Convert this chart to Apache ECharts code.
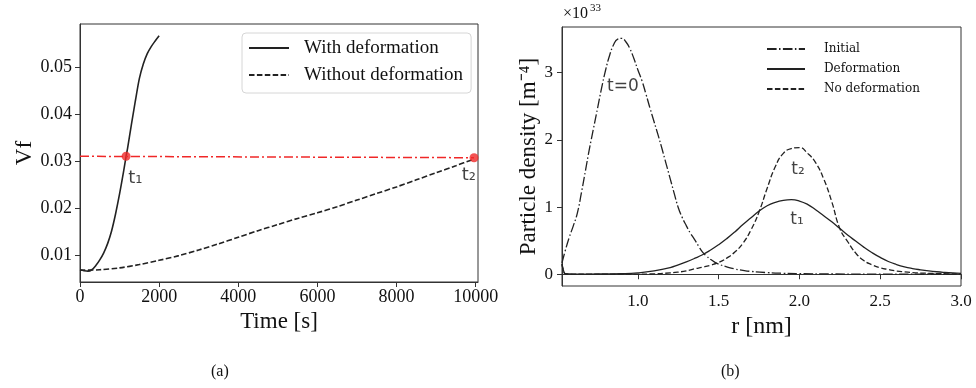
<!DOCTYPE html>
<html>
<head>
<meta charset="utf-8">
<title>Vf and particle density</title>
<script src="https://cdn.jsdelivr.net/npm/echarts@6/dist/echarts.min.js"></script>
</head>
<body style="margin:0;background:#fff">
<div id="main" style="width:976px;height:388px;"></div>
<script>
// ---- (a) Vf vs time ----
var timeWith = [0, 100, 200, 300, 400, 500, 600, 700, 800, 900, 1000, 1100, 1165, 1200, 1300, 1400, 1500, 1600, 1700, 1800, 1900, 2000];
var vfWith = [0.0069, 0.0067, 0.0066, 0.0069, 0.0078, 0.0090, 0.0105, 0.0125, 0.0152, 0.0188, 0.0230, 0.0277, 0.0310, 0.0326, 0.0378, 0.0428, 0.0475, 0.0506, 0.0528, 0.0543, 0.0555, 0.0566];
var timeWithout = [0, 500, 1000, 1500, 2000, 2500, 3000, 3500, 4000, 4500, 5000, 5500, 6000, 6500, 7000, 7500, 8000, 8500, 9000, 9500, 9960];
var vfWithout = [0.0068, 0.0069, 0.0073, 0.0080, 0.0089, 0.0099, 0.0111, 0.0124, 0.0138, 0.0152, 0.0165, 0.0178, 0.0190, 0.0203, 0.0217, 0.0231, 0.0245, 0.0260, 0.0275, 0.0290, 0.0304];
var refTimes = [0, 9960];          // red dash-dot line
var refVf = [0.0310, 0.0307];
var markTimes = [1165, 9960];      // t1, t2 points
var markVf = [0.0310, 0.0307];
var markNamesA = ['t₁', 't₂'];
var markLabelT = [1400, 9830];
var markLabelVf = [0.0264, 0.0270];
var timeTicks = [0, 2000, 4000, 6000, 8000, 10000];
var vfTicks = [0.01, 0.02, 0.03, 0.04, 0.05];

// ---- (b) particle density vs r ----
var rInit = [0.53, 0.55, 0.575, 0.60, 0.625, 0.65, 0.675, 0.70, 0.725, 0.75, 0.775, 0.80, 0.825, 0.85, 0.875, 0.90, 0.925, 0.95, 0.975, 1.00, 1.025, 1.05, 1.075, 1.10, 1.125, 1.15, 1.175, 1.20, 1.225, 1.25, 1.275, 1.30, 1.325, 1.35, 1.375, 1.40, 1.425, 1.45, 1.475, 1.50, 1.55, 1.60, 1.65, 1.70, 1.80, 1.90, 2.00, 2.20, 2.50, 3.00];
var nInit = [0.17, 0.35, 0.55, 0.72, 0.91, 1.21, 1.54, 1.87, 2.17, 2.47, 2.77, 3.04, 3.26, 3.42, 3.50, 3.51, 3.46, 3.36, 3.21, 3.04, 2.88, 2.68, 2.47, 2.27, 2.07, 1.86, 1.64, 1.42, 1.20, 0.99, 0.84, 0.72, 0.61, 0.52, 0.42, 0.33, 0.27, 0.22, 0.18, 0.15, 0.11, 0.078, 0.057, 0.042, 0.024, 0.014, 0.009, 0.004, 0.001, 0.0];
var rFinal = [0.53, 0.54, 0.55, 0.60, 0.70, 0.80, 0.90, 1.00, 1.10, 1.20, 1.25, 1.30, 1.35, 1.40, 1.45, 1.50, 1.55, 1.60, 1.65, 1.70, 1.75, 1.80, 1.85, 1.90, 1.95, 2.00, 2.05, 2.10, 2.15, 2.20, 2.25, 2.30, 2.35, 2.40, 2.45, 2.50, 2.55, 2.60, 2.65, 2.70, 2.75, 2.80, 2.85, 2.90, 2.95, 3.00];
var nDeform = [0.15, 0.05, 0.01, 0.003, 0.003, 0.005, 0.008, 0.02, 0.05, 0.10, 0.14, 0.185, 0.235, 0.29, 0.36, 0.44, 0.53, 0.63, 0.74, 0.84, 0.94, 1.02, 1.07, 1.10, 1.11, 1.09, 1.04, 0.96, 0.87, 0.78, 0.68, 0.58, 0.49, 0.40, 0.32, 0.25, 0.19, 0.145, 0.11, 0.085, 0.066, 0.05, 0.037, 0.027, 0.019, 0.013];
var nNoDeform = [0.15, 0.05, 0.005, 0.001, 0.001, 0.001, 0.001, 0.002, 0.006, 0.02, 0.032, 0.05, 0.08, 0.105, 0.135, 0.175, 0.24, 0.33, 0.46, 0.66, 0.93, 1.28, 1.60, 1.80, 1.87, 1.885, 1.80, 1.66, 1.42, 1.08, 0.68, 0.48, 0.31, 0.20, 0.14, 0.095, 0.07, 0.048, 0.035, 0.025, 0.018, 0.013, 0.009, 0.007, 0.005, 0.004];
var labelsB = ['t=0', 't₂', 't₁'];
var labelsBR = [0.907, 1.991, 1.985];
var labelsBN = [2.80, 1.56, 0.81];
var rTicks = [1.0, 1.5, 2.0, 2.5, 3.0];
var nTicks = [0, 1, 2, 3];

function zip(xs, ys) {
    var out = [];
    for (var i = 0; i < xs.length; i++) out.push([xs[i], ys[i]]);
    return out;
}

var serif = "'Liberation Serif', 'Times New Roman', serif";
var sans = "'DejaVu Sans', sans-serif";
var ink = '#222';
var dashed = [5.5, 2.4];
var dashDot = [9.6, 2.4, 1.5, 2.4];

function axisCommon(ticks, fmt, size) {
    return {
        axisLine: {lineStyle: {color: '#333', width: 1}},
        axisTick: {length: 5, customValues: ticks, lineStyle: {color: '#333'}},
        axisLabel: {customValues: ticks, formatter: fmt, fontFamily: serif, fontSize: size, color: '#111'},
        splitLine: {show: false}
    };
}

var xa = axisCommon(timeTicks, function (v) { return String(v); }, 18);
xa.axisLabel.margin = 6;
var ya = axisCommon(vfTicks, function (v) { return v.toFixed(2); }, 18);
ya.axisLabel.margin = 8;
var xb = axisCommon(rTicks, function (v) { return v.toFixed(1); }, 17);
xb.axisLabel.margin = 7;
var yb = axisCommon(nTicks, function (v) { return String(v); }, 17);
yb.axisLabel.margin = 9;

var chart = echarts.init(document.getElementById('main'));
chart.setOption({
    animation: false,
    backgroundColor: '#fff',
    grid: [
        {left: 80, top: 24, width: 398, height: 258, show: true, borderColor: '#333', borderWidth: 1},
        {left: 562, top: 27, width: 399, height: 259, show: true, borderColor: '#333', borderWidth: 1}
    ],
    xAxis: [
        Object.assign({gridIndex: 0, type: 'value', min: 0, max: 10060,
            name: 'Time [s]', nameLocation: 'middle', nameGap: 27,
            nameTextStyle: {fontFamily: serif, fontSize: 23, color: '#111'}}, xa),
        Object.assign({gridIndex: 1, type: 'value', min: 0.53, max: 3.0,
            name: 'r [nm]', nameLocation: 'middle', nameGap: 26,
            nameTextStyle: {fontFamily: serif, fontSize: 24, color: '#111'}}, xb)
    ],
    yAxis: [
        Object.assign({gridIndex: 0, type: 'value', min: 0.0043, max: 0.0591,
            name: 'Vf', nameLocation: 'middle', nameGap: 44,
            nameTextStyle: {fontFamily: serif, fontSize: 23, color: '#111'}}, ya),
        Object.assign({gridIndex: 1, type: 'value', min: -0.175, max: 3.68,
            name: 'Particle density [m⁻⁴]', nameLocation: 'middle', nameGap: 19,
            nameTextStyle: {fontFamily: serif, fontSize: 23, color: '#111'}}, yb)
    ],
    legend: [
        {
            data: ['With deformation', 'Without deformation'],
            orient: 'vertical', left: 242, top: 33,
            itemWidth: 40, itemHeight: 20, itemGap: 7,
            padding: [5, 8, 8, 6],
            backgroundColor: 'rgba(255,255,255,0.8)', borderColor: '#d6d6d6', borderWidth: 1, borderRadius: 4,
            itemStyle: {opacity: 0},
            textStyle: {fontFamily: serif, fontSize: 19, lineHeight: 20, color: '#111', padding: [0, 0, 0, 10]}
        },
        {
            data: ['Initial', 'Deformation', 'No deformation'],
            orient: 'vertical', left: 766, top: 42,
            itemWidth: 38, itemHeight: 14, itemGap: 6, padding: 0,
            itemStyle: {opacity: 0},
            textStyle: {fontFamily: "'DejaVu Serif', serif", fontSize: 12, lineHeight: 14, color: '#111', padding: [0, 0, 0, 14]}
        }
    ],
    graphic: [
        {type: 'text', left: 563, top: 6, style: {text: '×10', font: '16px ' + serif, fill: '#111'}},
        {type: 'text', left: 590, top: 3, style: {text: '33', font: '11px ' + serif, fill: '#111'}},
        {type: 'text', left: 211, top: 364, style: {text: '(a)', font: '16px ' + serif, fill: '#111'}},
        {type: 'text', left: 721, top: 364, style: {text: '(b)', font: '16px ' + serif, fill: '#111'}}
    ],
    series: [
        {name: 'With deformation', type: 'line', xAxisIndex: 0, yAxisIndex: 0, data: zip(timeWith, vfWith),
            symbol: 'none', smooth: 0.3, lineStyle: {color: ink, width: 1.6}, itemStyle: {color: ink}},
        {name: 'Without deformation', type: 'line', xAxisIndex: 0, yAxisIndex: 0, data: zip(timeWithout, vfWithout),
            symbol: 'none', smooth: 0.3, lineStyle: {color: ink, width: 1.6, type: dashed}, itemStyle: {color: ink}},
        {name: 'ref', type: 'line', xAxisIndex: 0, yAxisIndex: 0, data: zip(refTimes, refVf),
            symbol: 'none', lineStyle: {color: '#f02828', width: 1.5, type: [9, 3, 2, 3]}, silent: true},
        {name: 'marks', type: 'scatter', xAxisIndex: 0, yAxisIndex: 0, data: zip(markTimes, markVf),
            symbolSize: 9, itemStyle: {color: '#f02828'}, silent: true, z: 5},
        {name: 'tlabelsA', type: 'scatter', xAxisIndex: 0, yAxisIndex: 0, silent: true,
            data: zip(markLabelT, markLabelVf).map(function (d, i) { return {value: d, name: markNamesA[i]}; }),
            symbolSize: 1, itemStyle: {color: 'transparent'},
            label: {show: true, position: 'inside', formatter: '{b}', fontFamily: sans, fontSize: 18, color: '#111'}},

        {name: 'Initial', type: 'line', xAxisIndex: 1, yAxisIndex: 1, data: zip(rInit, nInit),
            symbol: 'none', smooth: 0.5, lineStyle: {color: ink, width: 1.3, type: dashDot}, itemStyle: {color: ink}},
        {name: 'Deformation', type: 'line', xAxisIndex: 1, yAxisIndex: 1, data: zip(rFinal, nDeform),
            symbol: 'none', smooth: 0.5, lineStyle: {color: ink, width: 1.3}, itemStyle: {color: ink}},
        {name: 'No deformation', type: 'line', xAxisIndex: 1, yAxisIndex: 1, data: zip(rFinal, nNoDeform),
            symbol: 'none', smooth: 0.5, lineStyle: {color: ink, width: 1.3, type: dashed}, itemStyle: {color: ink}},
        {name: 'tlabelsB', type: 'scatter', xAxisIndex: 1, yAxisIndex: 1, silent: true,
            data: zip(labelsBR, labelsBN).map(function (d, i) { return {value: d, name: labelsB[i]}; }),
            symbolSize: 1, itemStyle: {color: 'transparent'},
            label: {show: true, position: 'inside', formatter: '{b}', fontFamily: sans, fontSize: 17, color: '#111'}}
    ]
});
</script>
</body>
</html>
